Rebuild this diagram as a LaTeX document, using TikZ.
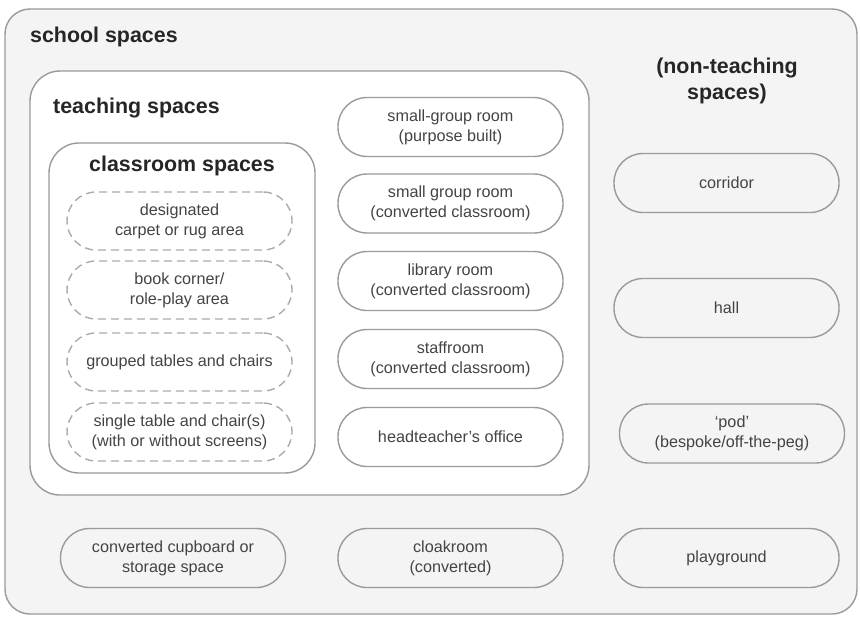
\documentclass[tikz,border=0pt]{standalone}
\usepackage{fontspec}
\setmainfont{Liberation Sans}
\usetikzlibrary{calc}
\definecolor{edgegray}{HTML}{9A9A9A}
\definecolor{dashgray}{HTML}{ABABAB}
\definecolor{roomfill}{HTML}{F4F4F4}
\definecolor{labelgray}{HTML}{444444}
\tikzset{
  zone/.style={draw=edgegray,line width=1.4pt,rounded corners=#1,inner sep=0pt},
  zone/.default=28pt,
  zonetitle/.style={font=\bfseries\fontsize{21.4}{26}\selectfont,text=black!85,inner sep=0pt,align=center},
  room/.style={draw=edgegray,line width=1.4pt,rounded corners=29pt,minimum width=225pt,
    minimum height=59pt,inner sep=0pt,align=center,text=labelgray,
    font=\fontsize{16.2}{20}\selectfont},
  area/.style={room,draw=dashgray,dash pattern=on 8pt off 5pt,minimum height=58pt}
}
\begin{document}
\begin{tikzpicture}[x=1pt,y=-1pt]
\useasboundingbox (0,0) rectangle (860,618);

\node[zone=25pt,fill=roomfill,minimum width=852pt,minimum height=605pt] (school) at (431,311.5) {};
\node[zonetitle,anchor=west] (schooltitle) at (30,37) {school spaces};

\node[zone=30pt,fill=white,minimum width=559pt,minimum height=424pt] (teaching) at (309.5,283) {};
\node[zonetitle,anchor=west] (teachingtitle) at (53,108) {teaching spaces};

\node[zone=30pt,fill=white,minimum width=266pt,minimum height=330pt] (classroom) at (182,308) {};
\node[zonetitle] (classroomtitle) at (182,166) {classroom spaces};

\node[zonetitle] (nonteaching) at (727,81) {(non-teaching\\spaces)};

\node[area] (carpet) at (179.5,221) {designated\\carpet or rug area};
\node[area] (bookcorner) at (179.5,290) {book corner/\\role-play area};
\node[area] (grouped) at (179.5,362) {grouped tables and chairs};
\node[area] (single) at (179.5,432) {single table and chair(s)\\(with or without screens)};

\node[room] (smallbuilt) at (450.5,127) {small-group room\\(purpose built)};
\node[room] (smallconv) at (450.5,203.5) {small group room\\(converted classroom)};
\node[room] (library) at (450.5,281) {library room\\(converted classroom)};
\node[room] (staffroom) at (450.5,359) {staffroom\\(converted classroom)};
\node[room] (headoffice) at (450.5,437) {headteacher's office};

\node[room] (corridor) at (726.5,183) {corridor};
\node[room] (hall) at (726.5,308) {hall};
\node[room] (pod) at (732,433.5) {`pod'\\(bespoke/off-the-peg)};

\node[room] (cupboard) at (173,558) {converted cupboard or\\storage space};
\node[room] (cloakroom) at (450.5,558) {cloakroom\\(converted)};
\node[room] (playground) at (726.5,558) {playground};
\end{tikzpicture}
\end{document}
